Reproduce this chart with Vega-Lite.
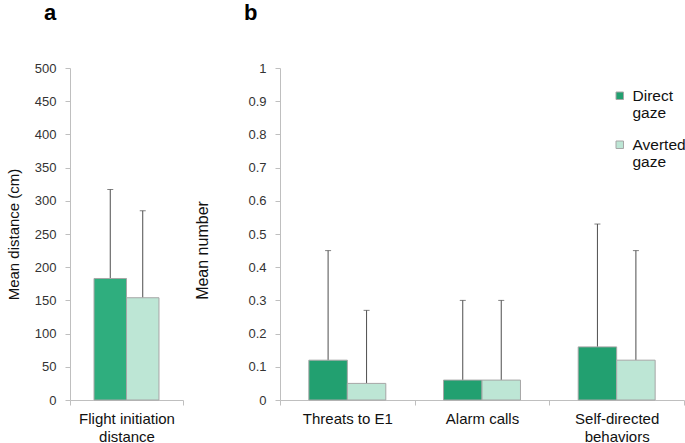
{
  "$schema": "https://vega.github.io/schema/vega-lite/v6.json",
  "background": "white",
  "padding": {"left": 6, "top": 2, "right": 0, "bottom": 0},
  "spacing": 10,
  "config": {
    "view": {"stroke": null},
    "font": "Liberation Sans",
    "axis": {"grid": false, "domainColor": "#bfbfbf", "tickColor": "#bfbfbf", "tickSize": 5, "labelFont": "Liberation Sans", "labelColor": "#333333", "titleFont": "Liberation Sans", "titleFontWeight": "normal", "titleColor": "#111111"}
  },
  "datasets": {
    "fid": [
      {"measure": "Flight initiation distance", "gaze": "Direct gaze", "mean": 183, "upper": 317},
      {"measure": "Flight initiation distance", "gaze": "Averted gaze", "mean": 154, "upper": 285}
    ],
    "beh": [
      {"measure": "Threats to E1", "gaze": "Direct gaze", "mean": 0.12, "upper": 0.45},
      {"measure": "Threats to E1", "gaze": "Averted gaze", "mean": 0.05, "upper": 0.27},
      {"measure": "Alarm calls", "gaze": "Direct gaze", "mean": 0.06, "upper": 0.30},
      {"measure": "Alarm calls", "gaze": "Averted gaze", "mean": 0.06, "upper": 0.30},
      {"measure": "Self-directed behaviors", "gaze": "Direct gaze", "mean": 0.16, "upper": 0.53},
      {"measure": "Self-directed behaviors", "gaze": "Averted gaze", "mean": 0.12, "upper": 0.45}
    ]
  },
  "resolve": {
    "legend": {"fill": "independent"},
    "scale": {"fill": "independent", "x": "independent", "xOffset": "independent", "y": "independent"},
    "axis": {"x": "independent", "y": "independent"}
  },
  "hconcat": [
    {
      "width": 113,
      "height": 332,
      "data": {"name": "fid"},
      "title": {"text": "a", "fontSize": 22, "fontWeight": "bold", "font": "Liberation Sans", "anchor": "start", "frame": "group", "dx": -26, "offset": 37, "color": "#000000"},
      "encoding": {
        "x": {"field": "measure", "type": "nominal", "scale": {"paddingInner": 0, "paddingOuter": 0},
              "axis": {"title": null, "labelAngle": 0, "tickBand": "extent", "labelFontSize": 15, "labelPadding": 6, "labelLineHeight": 18, "labelColor": "#111111",
                       "labelExpr": "datum.label == 'Flight initiation distance' ? ['Flight initiation', 'distance'] : datum.label"}},
        "xOffset": {"field": "gaze", "type": "nominal", "sort": ["Direct gaze", "Averted gaze"], "scale": {"paddingInner": 0, "paddingOuter": 0.74}},
        "y": {"field": "mean", "type": "quantitative", "scale": {"domain": [0, 500], "nice": false},
              "axis": {"title": "Mean distance (cm)", "values": [0, 50, 100, 150, 200, 250, 300, 350, 400, 450, 500], "labelOverlap": false, "labelFontSize": 13, "labelPadding": 9, "titleFontSize": 15, "titleX": -57, "titleBaseline": "middle"}}
      },
      "layer": [
        {
          "mark": {"type": "rule", "color": "#4d4d4d", "strokeWidth": 1},
          "encoding": {"y2": {"field": "upper"}}
        },
        {
          "mark": {"type": "tick", "color": "#4d4d4d", "thickness": 1, "size": 6, "orient": "horizontal"},
          "encoding": {"y": {"field": "upper", "type": "quantitative"}}
        },
        {
          "mark": {"type": "bar", "stroke": "#a6a6a6", "strokeWidth": 1},
          "encoding": {
            "fill": {"field": "gaze", "type": "nominal", "sort": ["Direct gaze", "Averted gaze"],
                     "scale": {"domain": ["Direct gaze", "Averted gaze"], "range": ["#2fae7e", "#bde6d5"]}, "legend": null}
          }
        }
      ]
    },
    {
      "width": 404,
      "height": 332,
      "data": {"name": "beh"},
      "title": {"text": "b", "fontSize": 22, "fontWeight": "bold", "font": "Liberation Sans", "anchor": "start", "frame": "group", "dx": -36, "offset": 37, "color": "#000000"},
      "encoding": {
        "x": {"field": "measure", "type": "nominal", "sort": ["Threats to E1", "Alarm calls", "Self-directed behaviors"], "scale": {"paddingInner": 0, "paddingOuter": 0},
              "axis": {"title": null, "labelAngle": 0, "tickBand": "extent", "labelFontSize": 15, "labelPadding": 6, "labelLineHeight": 18, "labelColor": "#111111",
                       "labelExpr": "datum.label == 'Self-directed behaviors' ? ['Self-directed', 'behaviors'] : datum.label"}},
        "xOffset": {"field": "gaze", "type": "nominal", "sort": ["Direct gaze", "Averted gaze"], "scale": {"paddingInner": 0, "paddingOuter": 0.75}},
        "y": {"field": "mean", "type": "quantitative", "scale": {"domain": [0, 1], "nice": false},
              "axis": {"title": "Mean number", "values": [0, 0.1, 0.2, 0.3, 0.4, 0.5, 0.6, 0.7, 0.8, 0.9, 1], "labelOverlap": false, "format": "~g", "labelFontSize": 13, "labelPadding": 9, "titleFontSize": 16, "titleX": -77.5, "titleY": 182, "titleBaseline": "middle"}}
      },
      "layer": [
        {
          "mark": {"type": "rule", "color": "#4d4d4d", "strokeWidth": 1},
          "encoding": {"y2": {"field": "upper"}}
        },
        {
          "mark": {"type": "tick", "color": "#4d4d4d", "thickness": 1, "size": 6, "orient": "horizontal"},
          "encoding": {"y": {"field": "upper", "type": "quantitative"}}
        },
        {
          "mark": {"type": "bar", "stroke": "#a6a6a6", "strokeWidth": 1},
          "encoding": {
            "fill": {"field": "gaze", "type": "nominal", "sort": ["Direct gaze", "Averted gaze"],
                     "scale": {"domain": ["Direct gaze", "Averted gaze"], "range": ["#22a070", "#bde6d5"]},
                     "legend": {"title": null, "orient": "none", "legendX": 332, "legendY": 20, "symbolType": "square", "symbolSize": 56, "symbolStrokeColor": "#a6a6a6", "symbolStrokeWidth": 1,
                                "labelFont": "Liberation Sans", "labelFontSize": 15.5, "labelColor": "#111111", "labelLineHeight": 18, "labelOffset": 5, "rowPadding": 15,
                                "labelExpr": "datum.label == 'Direct gaze' ? ['Direct', 'gaze'] : ['Averted', 'gaze']"}}
          }
        }
      ]
    }
  ]
}
